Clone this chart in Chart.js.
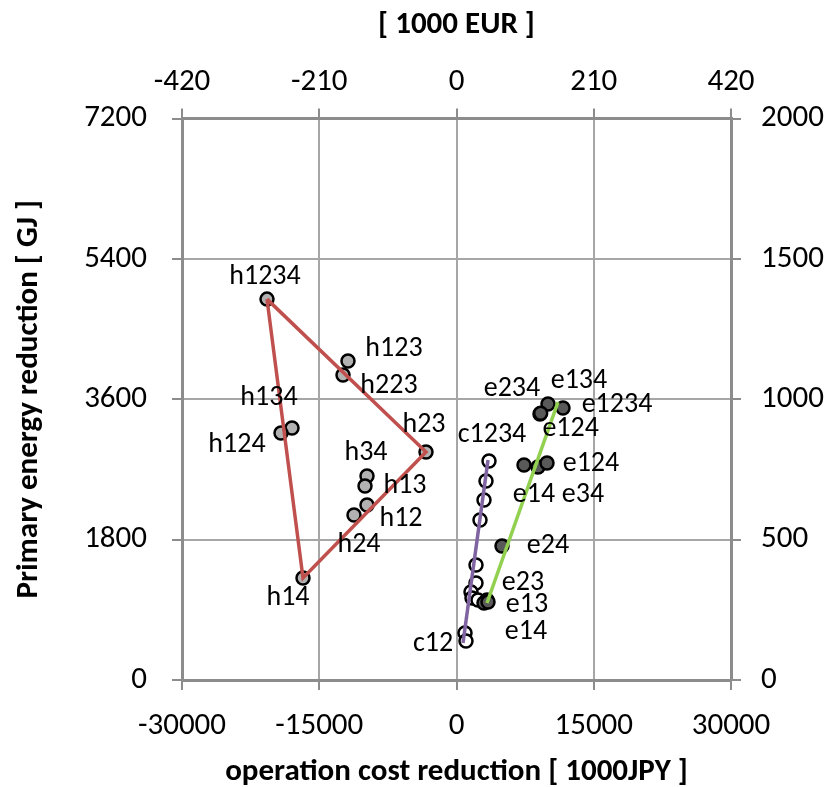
<!DOCTYPE html>
<html>
<head>
<meta charset="utf-8">
<script src="https://cdn.jsdelivr.net/npm/chart.js@4/dist/chart.umd.min.js"></script>
<style>
  html, body { margin: 0; padding: 0; background: #ffffff; }
  #wrap { width: 831px; height: 787px; }
</style>
</head>
<body>
<div id="wrap"><canvas id="chart" width="831" height="787"></canvas></div>
<script>
// Heat-pump cases (h): operation cost reduction [1000 JPY] vs primary energy reduction [GJ]
const hNames  = ['h1234', 'h123', 'h223', 'h134', 'h124', 'h23', 'h34', 'h13', 'h12', 'h24', 'h14'];
const hCost   = [-20710, -11858, -12404, -17978, -19180, -3333, -9781, -10000, -9781, -11202, -16776];
const hEnergy = [4884, 4090, 3910, 3231, 3167, 2923, 2615, 2487, 2244, 2115, 1308];

// Cogeneration cases (c)
const cNames  = ['c1234', '', '', '', '', '', '', '', '', '', 'c12'];
const cCost   = [3552, 3224, 3005, 2568, 2131, 2131, 1585, 1694, 2350, 929, 1038];
const cEnergy = [2808, 2551, 2308, 2051, 1474, 1244, 1128, 1051, 1026, 603, 500];

// Electric cases (e)
const eNames  = ['e234', 'e134', 'e1234', 'e124', 'e14', 'e34', 'e124', 'e24', 'e23', 'e13', 'e14'];
const eCost   = [9126, 9999, 11638, 9200, 7377, 8907, 9891, 4973, 3333, 3005, 3443];
const eEnergy = [3410, 3538, 3487, 3420, 2756, 2731, 2782, 1718, 1026, 987, 1000];

// Envelope lines
const hTriangle  = ['h1234', 'h23', 'h14', 'h1234'];
const cLineCost   = [710, 3443];
const cLineEnergy = [474, 2820];
const eLineCost   = [3333, 11093];
const eLineEnergy = [987, 3564];

// Axis ticks
const xTicks  = [-30000, -15000, 0, 15000, 30000];
const x2Ticks = [-420, -210, 0, 210, 420];
const yTicks  = [0, 1800, 3600, 5400, 7200];
const y2Ticks = [0, 500, 1000, 1500, 2000];

const toPoints = (xs, ys) => xs.map((x, i) => ({ x: x, y: ys[i] }));
const trianglePts = hTriangle.map(n => {
  const i = hNames.indexOf(n);
  return { x: hCost[i], y: hEnergy[i] };
});

const FONT = "Carlito, Lato, 'Open Sans', sans-serif";
const GRID = '#a6a6a6';
const AXIS = '#8c8c8c';

// Label offsets (px) from each marker, text centred
const labelOffsets = {
  h: [[-2, -22], [46, -12], [46, 11], [-23, -30], [-44, 12], [-2, -27], [-1, -23], [40, 0], [34, 14], [5, 30], [-15, 20]],
  c: [[3, -26], null, null, null, null, null, null, null, null, null, [-33, 3]],
  e: [[-28, -25], [31, -23], [54, -3], [30, 16], [10, 30], [45, 28], [44, 1], [46, 0], [36, -17], [43, 2], [38, 30]]
};

const pointLabels = {
  id: 'pointLabels',
  afterDatasetsDraw(chart) {
    const ctx = chart.ctx;
    ctx.save();
    ctx.font = '28px ' + FONT;
    ctx.fillStyle = '#000000';
    ctx.textAlign = 'center';
    ctx.textBaseline = 'middle';
    chart.data.datasets.forEach((ds, i) => {
      if (!ds.names) return;
      const meta = chart.getDatasetMeta(i);
      const offs = labelOffsets[ds.key];
      ds.names.forEach((n, j) => {
        if (!n || !offs[j]) return;
        const el = meta.data[j];
        ctx.fillText(n, el.x + offs[j][0], el.y + offs[j][1]);
      });
    });
    ctx.restore();
  }
};

const tickFont = { family: FONT, size: 31 };
const titleFont = { family: FONT, size: 31, weight: 'bold' };

new Chart(document.getElementById('chart'), {
  type: 'scatter',
  data: {
    datasets: [
      { data: trianglePts, showLine: true, borderColor: '#c0504d', borderWidth: 3.5, pointRadius: 0, fill: false },
      { data: toPoints(cLineCost, cLineEnergy), showLine: true, borderColor: '#8064a2', borderWidth: 3.5, pointRadius: 0, fill: false },
      { data: toPoints(eLineCost, eLineEnergy), showLine: true, borderColor: '#92d050', borderWidth: 3.5, pointRadius: 0, fill: false },
      { key: 'h', names: hNames, data: toPoints(hCost, hEnergy), backgroundColor: '#b2b2b2', borderColor: '#000000', borderWidth: 2.5, pointRadius: 6.5 },
      { key: 'e', names: eNames, data: toPoints(eCost, eEnergy), backgroundColor: '#595959', borderColor: '#000000', borderWidth: 2.5, pointRadius: 6.5 },
      { key: 'c', names: cNames, data: toPoints(cCost, cEnergy), backgroundColor: '#ffffff', borderColor: '#000000', borderWidth: 2.5, pointRadius: 6.5 }
    ]
  },
  options: {
    responsive: false,
    animation: false,
    layout: { padding: 0 },
    plugins: { legend: { display: false }, tooltip: { enabled: false } },
    scales: {
      x: {
        type: 'linear', position: 'bottom',
        min: xTicks[0], max: xTicks[xTicks.length - 1],
        afterBuildTicks: s => { s.ticks = xTicks.map(v => ({ value: v })); },
        afterFit: s => { s.height = 107; },
        grid: { color: GRID, lineWidth: 2, tickLength: 10, tickColor: AXIS },
        border: { display: true, color: AXIS, width: 3 },
        ticks: { font: tickFont, color: '#000', padding: 18, maxRotation: 0, callback: v => String(v) },
        title: { display: true, text: 'operation cost reduction [ 1000JPY ]', font: titleFont, color: '#000', padding: { top: 0, bottom: -4 } }
      },
      x2: {
        type: 'linear', position: 'top',
        min: x2Ticks[0], max: x2Ticks[x2Ticks.length - 1],
        afterBuildTicks: s => { s.ticks = x2Ticks.map(v => ({ value: v })); },
        afterFit: s => { s.height = 118.5; },
        grid: { drawOnChartArea: false, color: AXIS, lineWidth: 2, tickLength: 10 },
        border: { display: true, color: AXIS, width: 3 },
        ticks: { font: tickFont, color: '#000', padding: 8, maxRotation: 0, callback: v => String(v) },
        title: { display: true, text: '[ 1000 EUR ]', font: titleFont, color: '#000', padding: { top: 7, bottom: 0 } }
      },
      y: {
        type: 'linear', position: 'left',
        min: yTicks[0], max: yTicks[yTicks.length - 1],
        afterBuildTicks: s => { s.ticks = yTicks.map(v => ({ value: v })); },
        afterFit: s => { s.width = 182; },
        grid: { color: GRID, lineWidth: 2, tickLength: 10, tickColor: AXIS },
        border: { display: true, color: AXIS, width: 3 },
        ticks: { font: tickFont, color: '#000', padding: 25, callback: v => String(v) },
        title: { display: true, text: 'Primary energy reduction [ GJ ]', font: titleFont, color: '#000', padding: { top: 11, bottom: 0 } }
      },
      y2: {
        type: 'linear', position: 'right',
        min: y2Ticks[0], max: y2Ticks[y2Ticks.length - 1],
        afterBuildTicks: s => { s.ticks = y2Ticks.map(v => ({ value: v })); },
        afterFit: s => { s.width = 100; },
        grid: { drawOnChartArea: false, color: AXIS, lineWidth: 2, tickLength: 10 },
        border: { display: true, color: AXIS, width: 3 },
        ticks: { font: tickFont, color: '#000', padding: 20, callback: v => String(v) }
      }
    }
  },
  plugins: [pointLabels]
});
</script>
</body>
</html>
